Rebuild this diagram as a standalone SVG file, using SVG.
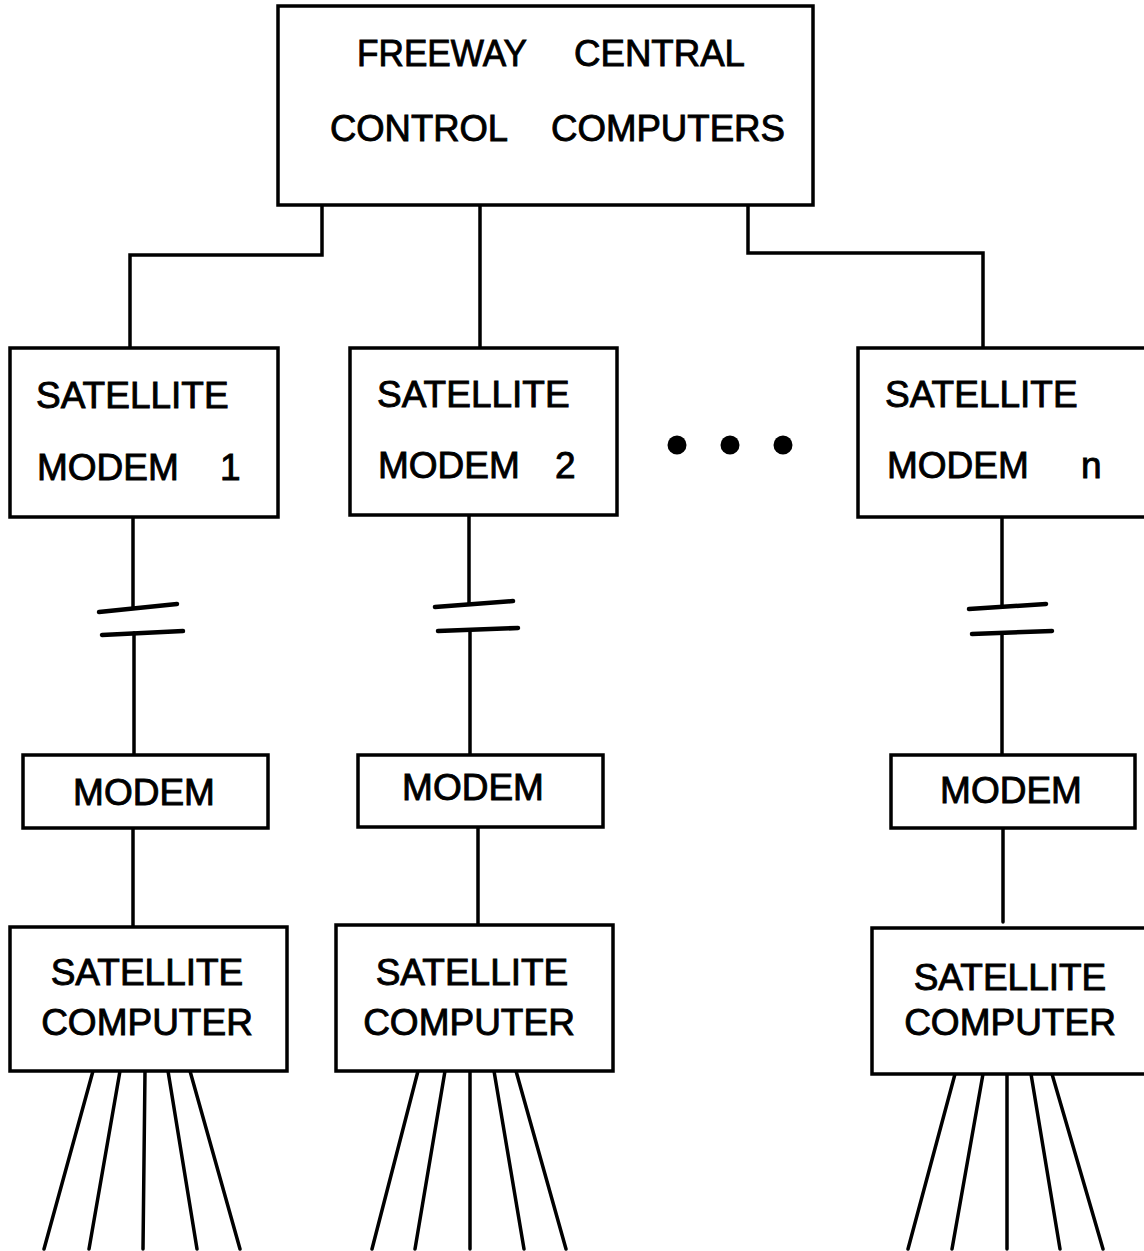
<svg xmlns="http://www.w3.org/2000/svg" width="1144" height="1251" viewBox="0 0 1144 1251">
<style>
.box{fill:#fff;stroke:#000;stroke-width:3.5}
.ln{fill:none;stroke:#000;stroke-width:3.5;stroke-linecap:round;stroke-linejoin:miter}
.brk{fill:none;stroke:#000;stroke-width:4.5;stroke-linecap:round}
text{font-family:"Liberation Sans",Arial,sans-serif;font-size:37px;fill:#000;stroke:#000;stroke-width:0.9}
.c{text-anchor:middle}
</style>
<rect width="1144" height="1251" fill="#fff"/>
<g id="connectors">
<polyline class="ln" points="322,205 322,255 130,255 130,348"/>
<line class="ln" x1="480" y1="205" x2="480" y2="348"/>
<polyline class="ln" points="748,205 748,253 983,253 983,348"/>
<line class="ln" x1="133" y1="517" x2="133" y2="608"/>
<line class="ln" x1="134" y1="633" x2="134" y2="755"/>
<line class="brk" x1="99" y1="612" x2="177" y2="604"/>
<line class="brk" x1="102" y1="635" x2="183" y2="631"/>
<line class="ln" x1="469" y1="515" x2="469" y2="604"/>
<line class="ln" x1="470" y1="630" x2="470" y2="755"/>
<line class="brk" x1="435" y1="607" x2="513" y2="601"/>
<line class="brk" x1="438" y1="631" x2="518" y2="628"/>
<line class="ln" x1="1002" y1="517" x2="1002" y2="606"/>
<line class="ln" x1="1002" y1="633" x2="1002" y2="754"/>
<line class="brk" x1="969" y1="609" x2="1046" y2="604"/>
<line class="brk" x1="972" y1="634" x2="1052" y2="631"/>
<line class="ln" x1="133" y1="828" x2="133" y2="927"/>
<line class="ln" x1="478" y1="827" x2="478" y2="925"/>
<line class="ln" x1="1003" y1="828" x2="1003" y2="922"/>
<line class="ln" x1="93" y1="1071" x2="44" y2="1249"/>
<line class="ln" x1="120" y1="1071" x2="89" y2="1249"/>
<line class="ln" x1="145" y1="1071" x2="143" y2="1249"/>
<line class="ln" x1="168" y1="1071" x2="197" y2="1249"/>
<line class="ln" x1="190" y1="1071" x2="240" y2="1249"/>
<line class="ln" x1="418" y1="1071" x2="372" y2="1249"/>
<line class="ln" x1="445" y1="1071" x2="415" y2="1249"/>
<line class="ln" x1="470" y1="1071" x2="470" y2="1249"/>
<line class="ln" x1="494" y1="1071" x2="524" y2="1249"/>
<line class="ln" x1="516" y1="1071" x2="566" y2="1249"/>
<line class="ln" x1="955" y1="1074" x2="908" y2="1249"/>
<line class="ln" x1="983" y1="1074" x2="952" y2="1249"/>
<line class="ln" x1="1007" y1="1074" x2="1007" y2="1249"/>
<line class="ln" x1="1031" y1="1074" x2="1060" y2="1249"/>
<line class="ln" x1="1052" y1="1074" x2="1103" y2="1249"/>
</g>
<g id="central">
<rect class="box" x="278" y="6" width="535" height="199"/>
<text x="357" y="66" textLength="170" lengthAdjust="spacingAndGlyphs">FREEWAY</text>
<text x="574" y="66" textLength="171" lengthAdjust="spacingAndGlyphs">CENTRAL</text>
<text x="330" y="141" textLength="178" lengthAdjust="spacingAndGlyphs">CONTROL</text>
<text x="551" y="141" textLength="234" lengthAdjust="spacingAndGlyphs">COMPUTERS</text>
</g>
<g id="satmodem1">
<rect class="box" x="10" y="348" width="268" height="169"/>
<text x="36" y="408">SATELLITE</text>
<text x="37" y="480">MODEM</text>
<text x="220" y="480">1</text>
</g>
<g id="satmodem2">
<rect class="box" x="350" y="348" width="267" height="167"/>
<text x="377" y="407">SATELLITE</text>
<text x="378" y="478">MODEM</text>
<text x="555" y="478">2</text>
</g>
<g id="ellipsis">
<circle cx="677" cy="445" r="9.5"/>
<circle cx="730" cy="445" r="9.5"/>
<circle cx="783" cy="445" r="9.5"/>
</g>
<g id="satmodemn">
<rect class="box" x="858" y="348" width="300" height="169"/>
<text x="885" y="407">SATELLITE</text>
<text x="887" y="478">MODEM</text>
<text x="1081" y="478">n</text>
</g>
<g id="modem1">
<rect class="box" x="23" y="755" width="245" height="73"/>
<text class="c" x="144" y="805">MODEM</text>
</g>
<g id="modem2">
<rect class="box" x="358" y="755" width="245" height="72"/>
<text class="c" x="473" y="800">MODEM</text>
</g>
<g id="modemn">
<rect class="box" x="891" y="755" width="244" height="73"/>
<text class="c" x="1011" y="803">MODEM</text>
</g>
<g id="satcomp1">
<rect class="box" x="10" y="927" width="277" height="144"/>
<text class="c" x="147" y="985">SATELLITE</text>
<text class="c" x="147" y="1035">COMPUTER</text>
</g>
<g id="satcomp2">
<rect class="box" x="336" y="925" width="277" height="146"/>
<text class="c" x="472" y="985">SATELLITE</text>
<text class="c" x="469" y="1035">COMPUTER</text>
</g>
<g id="satcompn">
<rect class="box" x="872" y="928" width="290" height="146"/>
<text class="c" x="1010" y="990">SATELLITE</text>
<text class="c" x="1010" y="1035">COMPUTER</text>
</g>
</svg>
